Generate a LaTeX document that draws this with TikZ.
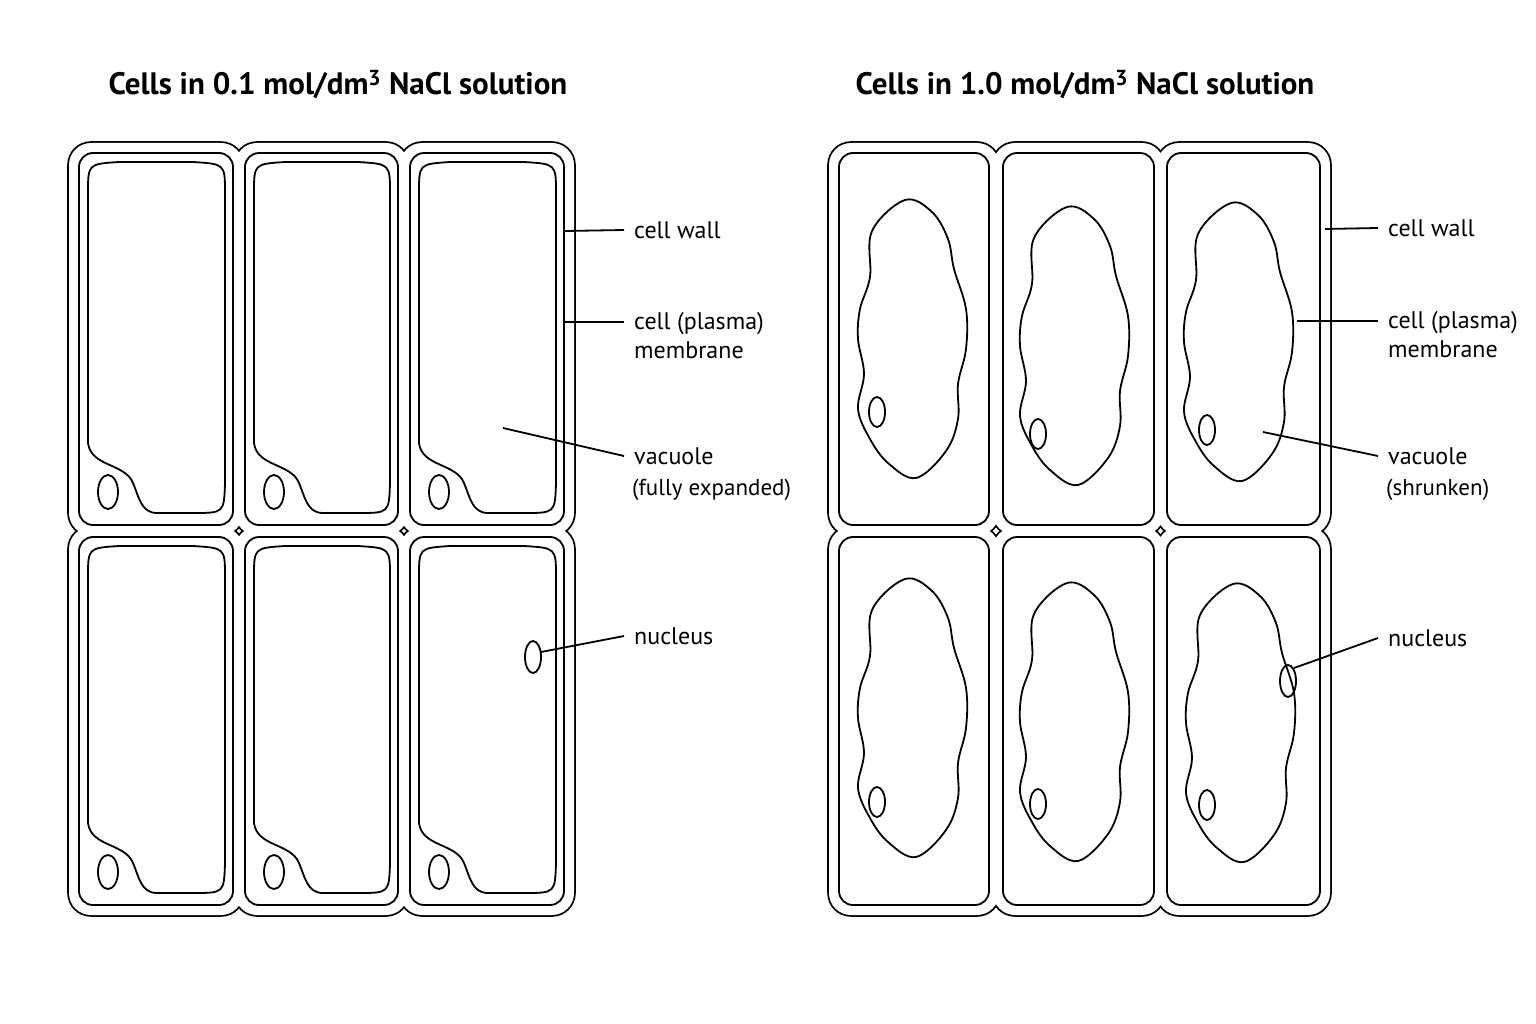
\documentclass[tikz,border=0pt]{standalone}
\usepackage{fontspec}
\setmainfont{PT Sans}

\tikzset{
  wall/.style={line width=3.6pt},
  line/.style={line width=1.8pt},
  lbl/.style={anchor=west, align=left, font=\fontsize{24}{29}\selectfont, inner sep=0pt},
  sub/.style={anchor=west, font=\fontsize{23}{27}\selectfont, inner sep=0pt},
  ttl/.style={font=\bfseries\fontsize{31}{35}\selectfont},
}

\newcommand{\blob}{plot[smooth cycle, tension=0.6] coordinates {(-9,-139) (18,-127) (34,-100) (40,-70) (52,-30) (52,10) (44,45) (44,80) (32,112) (2,139) (-26,124) (-44,100) (-56,70) (-50,35) (-56,0) (-54,-30) (-44,-62) (-42,-108)}}

\begin{document}
\begin{tikzpicture}[x=1pt, y=-1pt, line join=round]
  \useasboundingbox (0,0) rectangle (1536,1024);

  % titles
  \node[ttl] (t1) at (338,85) {Cells in 0.1 mol/dm\textsuperscript{3} NaCl solution};
  \node[ttl] (t2) at (1085,85) {Cells in 1.0 mol/dm\textsuperscript{3} NaCl solution};

  % walls: outer outline of each block
  \foreach \xa/\xb in {79/233,245/398,410/564,839/989,1003/1154,1167/1320}
    \foreach \ya/\yb in {153/525,537/905}
      \draw[wall, rounded corners=22] (\xa-10,\ya-10) rectangle (\xb+10,\yb+10);
  \foreach \xa/\xb in {79/233,245/398,410/564,839/989,1003/1154,1167/1320}
    \foreach \ya/\yb in {153/525,537/905}
      \fill[white, rounded corners=22] (\xa-10,\ya-10) rectangle (\xb+10,\yb+10);
  \foreach \xa/\xb in {79/233,245/398,410/564,839/989,1003/1154,1167/1320}
    \foreach \ya/\yb in {153/525,537/905}
      \draw[line, rounded corners=14] (\xa,\ya) rectangle (\xb,\yb);

  % turgid cells: membrane and nucleus
  \foreach \xa/\xb in {79/233,245/398,410/564}
    \foreach \ya/\yb in {153/525,537/905} {
      \draw[line] (\xa+9,\yb-82) -- (\xa+9,\ya+40)
        .. controls (\xa+9,\ya+11) .. (\xa+40,\ya+9) -- (\xb-40,\ya+9)
        .. controls (\xb-8,\ya+11) .. (\xb-8,\ya+40) -- (\xb-8,\yb-42)
        .. controls (\xb-9,\yb-12) .. (\xb-40,\yb-12) -- (\xa+78,\yb-12)
        .. controls (\xa+62,\yb-12) and (\xa+60,\yb-28) .. (\xa+54,\yb-42)
        .. controls (\xa+46,\yb-62) and (\xa+12,\yb-58) .. cycle;
      \draw[line] (\xa+29,\yb-33) ellipse (10 and 17);
    }
  \draw[line] (533,657) ellipse (8 and 16);

  % plasmolysed cells: shrunken protoplast and nucleus
  \foreach \cx/\cy/\nx/\ny in {914/339/-37/73, 1076/346/-38/88, 1240/342/-33/88,
                               914/718/-37/84, 1076/722/-38/82, 1242/723/-35/82} {
    \begin{scope}[shift={(\cx,\cy)}]
      \draw[line] \blob;
      \draw[line] (\nx,\ny) ellipse (8 and 15);
    \end{scope}
  }
  \draw[line] (1288,681) ellipse (8 and 16);

  % labels, left
  \node[lbl] (wallL) at (634,230) {cell wall};
  \node[lbl] (membL) at (634,336) {cell (plasma)\\membrane};
  \node[lbl] (vacL) at (634,456) {vacuole};
  \node[sub] (vacLs) at (632,490) {(fully expanded)};
  \node[lbl] (nucL) at (634,636) {nucleus};
  \coordinate (pWallL) at (565,231);
  \coordinate (pMembL) at (565,322);
  \coordinate (pVacL) at (503,428);
  \coordinate (pNucL) at (541,652);
  \draw[line] (pWallL) -- ([xshift=-10pt]wallL.west);
  \draw[line] (pMembL) -- ([xshift=-10pt]membL.west |- pMembL);
  \draw[line] (pVacL) -- ([xshift=-10pt]vacL.west);
  \draw[line] (pNucL) -- ([xshift=-10pt]nucL.west);

  % labels, right
  \node[lbl] (wallR) at (1388,228) {cell wall};
  \node[lbl] (membR) at (1388,335) {cell (plasma)\\membrane};
  \node[lbl] (vacR) at (1388,456) {vacuole};
  \node[sub] (vacRs) at (1386,490) {(shrunken)};
  \node[lbl] (nucR) at (1388,638) {nucleus};
  \coordinate (pWallR) at (1325,229);
  \coordinate (pMembR) at (1297,321);
  \coordinate (pVacR) at (1263,432);
  \coordinate (pNucR) at (1294,668);
  \draw[line] (pWallR) -- ([xshift=-10pt]wallR.west);
  \draw[line] (pMembR) -- ([xshift=-10pt]membR.west |- pMembR);
  \draw[line] (pVacR) -- ([xshift=-10pt]vacR.west);
  \draw[line] (pNucR) -- ([xshift=-10pt]nucR.west);
\end{tikzpicture}
\end{document}
